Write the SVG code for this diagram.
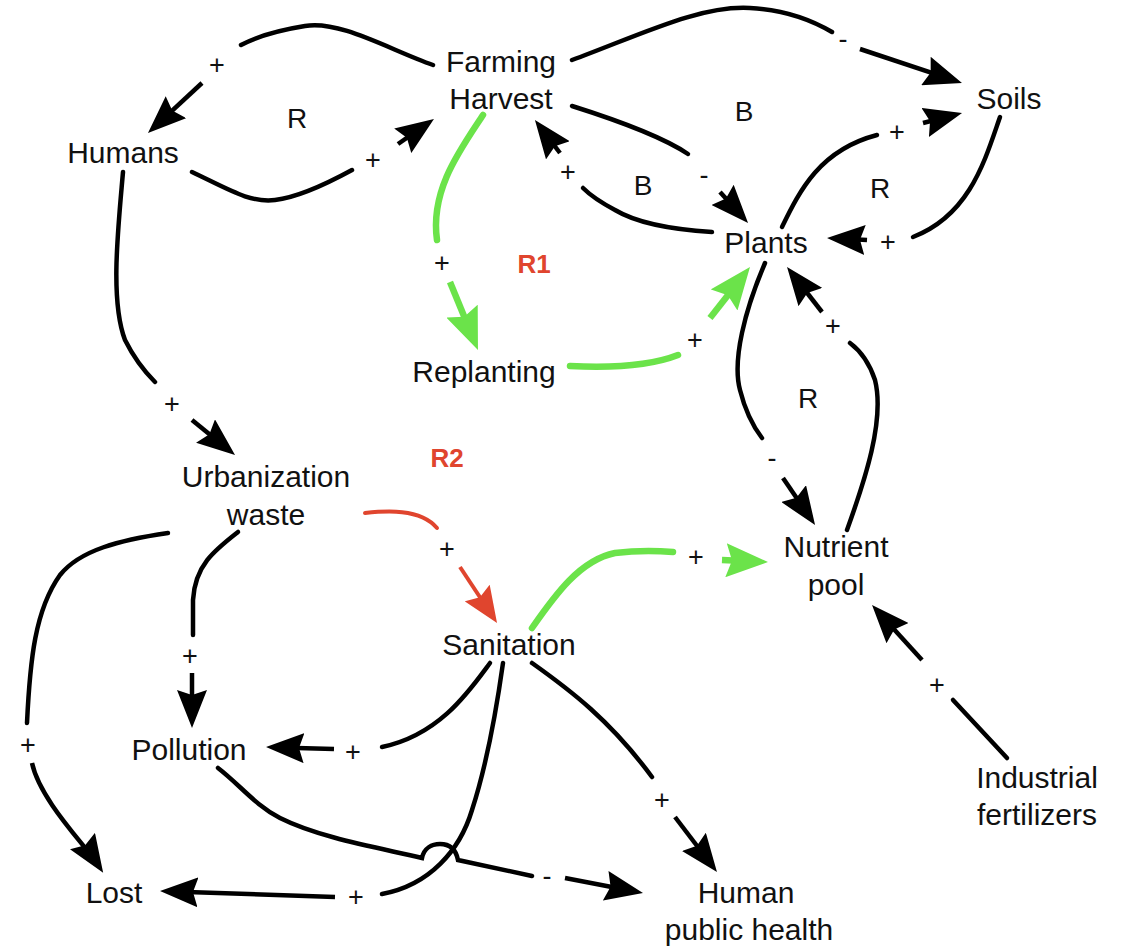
<svg xmlns="http://www.w3.org/2000/svg" width="1123" height="947" viewBox="0 0 1123 947">
<style>
.lbl{font-family:"Liberation Sans",Arial,sans-serif;font-size:30px;fill:#111;text-anchor:middle}
.sgn{font-family:"Liberation Sans",Arial,sans-serif;font-size:27px;fill:#111;text-anchor:middle}
.loop{font-family:"Liberation Sans",Arial,sans-serif;font-size:28px;fill:#111;text-anchor:middle}
.rl{font-family:"Liberation Sans",Arial,sans-serif;font-size:26px;font-weight:bold;fill:#E0452E;text-anchor:middle}
.k{fill:none;stroke:#000;stroke-width:4.5;stroke-linecap:round}
.ka{fill:none;stroke:#000;stroke-width:4.5;stroke-linecap:butt;marker-end:url(#ab)}
.g{fill:none;stroke:#6BE34A;stroke-width:6.5;stroke-linecap:round}
.ga{fill:none;stroke:#6BE34A;stroke-width:6.5;stroke-linecap:butt;marker-end:url(#ag)}
.r{fill:none;stroke:#E0452E;stroke-width:4;stroke-linecap:round}
.ra{fill:none;stroke:#E0452E;stroke-width:4;stroke-linecap:butt;marker-end:url(#ar)}
</style>
<defs>
<marker id="ab" viewBox="0 0 38 30" markerWidth="38" markerHeight="30" refX="26" refY="15" orient="auto" markerUnits="userSpaceOnUse"><path d="M0,0 L38,15 L0,30 L5,15 z" fill="#000"/></marker>
<marker id="ag" viewBox="0 0 42 34" markerWidth="42" markerHeight="34" refX="30" refY="17" orient="auto" markerUnits="userSpaceOnUse"><path d="M0,0 L42,17 L0,34 L6,17 z" fill="#6BE34A"/></marker>
<marker id="ar" viewBox="0 0 36 30" markerWidth="36" markerHeight="30" refX="24" refY="15" orient="auto" markerUnits="userSpaceOnUse"><path d="M0,0 L36,15 L0,30 L5,15 z" fill="#E0452E"/></marker>
</defs>
<rect width="1123" height="947" fill="#fff"/>

<g id="connectors">
  <!-- Farming -> Humans -->
  <path class="k" d="M433,65 C390,50 340,20 305,26 C280,30 258,36 241,45"/>
  <path class="ka" d="M202,83 L156.8,124.8"/>
  <!-- Humans -> Farming -->
  <path class="k" d="M192,172 C230,190 250,203 275,200 C300,197 330,182 352,170"/>
  <path class="ka" d="M398,144 L424.1,125.9"/>
  <!-- Farming -> Soils -->
  <path class="k" d="M572,60 C640,35 700,5 750,8 C790,10 815,22 832,32"/>
  <path class="ka" d="M860,49 L950.6,79.2"/>
  <!-- Farming -> Plants -->
  <path class="k" d="M572,106 C610,118 660,135 688,154"/>
  <path class="ka" d="M720,192 L740,214.1"/>
  <!-- Plants -> Farming -->
  <path class="k" d="M712,232 C680,230 640,225 615,210 C600,202 590,195 583,188"/>
  <path class="ka" d="M560,153 L542.2,129.6"/>
  <!-- Plants -> Soils -->
  <path class="k" d="M782,227 C800,190 820,150 877,135"/>
  <path class="ka" d="M923,123 L950.4,116"/>
  <!-- Soils -> Plants -->
  <path class="k" d="M1000,117 C985,160 970,215 913,237"/>
  <path class="ka" d="M867,240 L839,238.6"/>
  <!-- Farming -> Replanting (green) -->
  <path class="g" d="M483,115 C460,150 430,190 437,240"/>
  <path class="ga" d="M450,282 L473.4,338.9"/>
  <!-- Replanting -> Plants (green) -->
  <path class="g" d="M570,366 C610,368 650,366 678,355"/>
  <path class="ga" d="M710,318 L742.6,276.4"/>
  <!-- Plants -> Nutrient pool -->
  <path class="k" d="M765,263 C745,310 732,360 740,390 C745,410 752,425 762,438"/>
  <path class="ka" d="M783,478 L808.3,515.1"/>
  <!-- Nutrient pool -> Plants -->
  <path class="k" d="M847,530 C865,480 885,420 875,380 C870,365 862,352 850,343"/>
  <path class="ka" d="M822,312 L794.4,276.5"/>
  <!-- Humans -> Urbanization -->
  <path class="k" d="M123,172 C118,230 110,300 125,340 C135,360 145,372 155,382"/>
  <path class="ka" d="M192,420 L225.7,447.4"/>
  <!-- Urbanization -> Sanitation (red) -->
  <path class="r" d="M365,513 C385,511 420,508 437,528"/>
  <path class="ra" d="M460,567 L490.4,613"/>
  <!-- Sanitation -> Nutrient pool (green) -->
  <path class="g" d="M532,628 C555,595 580,560 615,553 C640,550 660,551 673,552"/>
  <path class="ga" d="M722,560 L756,561.5"/>
  <!-- Urbanization -> Pollution -->
  <path class="k" d="M238,532 C215,550 195,565 193,600 L193,635"/>
  <path class="ka" d="M192,673 L192,716"/>
  <!-- Urbanization -> Lost -->
  <path class="k" d="M168,533 C120,540 80,550 60,575 C35,610 30,660 27,723"/>
  <path class="ka" d="M32,763 C40,800 85,845 96.6,862.8"/>
  <!-- Sanitation -> Pollution -->
  <path class="k" d="M490,663 C470,690 440,735 382,747"/>
  <path class="ka" d="M334,749 L278,747.4"/>
  <!-- Sanitation -> Lost -->
  <path class="k" d="M503,663 C495,720 485,770 472,810 C460,850 430,885 382,894"/>
  <path class="ka" d="M335,897 L172,891.4"/>
  <!-- Sanitation -> Human public health -->
  <path class="k" d="M532,663 C570,690 610,720 652,777"/>
  <path class="ka" d="M675,817 L709.7,862.5"/>
  <!-- Pollution -> Human public health (with hop) -->
  <path class="k" d="M218,768 C240,785 255,805 280,818 C320,838 380,848 422,858 C424,848 432,844 440,844 C450,844 456,850 458,860 L532,876"/>
  <path class="ka" d="M565,878 L631.2,890.7"/>
  <!-- Industrial fertilizers -> Nutrient pool -->
  <path class="k" d="M1007,758 L953,700"/>
  <path class="ka" d="M922,660 L880.1,613.9"/>

  <!-- polarity signs -->
  <text class="sgn" x="217" y="74">+</text>
  <text class="sgn" x="373" y="169">+</text>
  <text class="sgn" x="843" y="48">-</text>
  <text class="sgn" x="704" y="184">-</text>
  <text class="sgn" x="568" y="181">+</text>
  <text class="sgn" x="897" y="141">+</text>
  <text class="sgn" x="888" y="251">+</text>
  <text class="sgn" x="442" y="272">+</text>
  <text class="sgn" x="695" y="349">+</text>
  <text class="sgn" x="772" y="467">-</text>
  <text class="sgn" x="833" y="335">+</text>
  <text class="sgn" x="172" y="413">+</text>
  <text class="sgn" x="447" y="558">+</text>
  <text class="sgn" x="696" y="566">+</text>
  <text class="sgn" x="190" y="665">+</text>
  <text class="sgn" x="28" y="754">+</text>
  <text class="sgn" x="353" y="761">+</text>
  <text class="sgn" x="356" y="906">+</text>
  <text class="sgn" x="662" y="809">+</text>
  <text class="sgn" x="547" y="885">-</text>
  <text class="sgn" x="937" y="694">+</text>

  <!-- loop labels -->
  <text class="loop" x="297" y="128">R</text>
  <text class="loop" x="744" y="121">B</text>
  <text class="loop" x="643" y="195">B</text>
  <text class="loop" x="880" y="198">R</text>
  <text class="loop" x="808" y="408">R</text>
  <text class="rl" x="534" y="273">R1</text>
  <text class="rl" x="447" y="467">R2</text>
</g>

<g id="farming"><text class="lbl" x="501" y="72">Farming</text><text class="lbl" x="501" y="109">Harvest</text></g>
<g id="humans"><text class="lbl" x="123" y="163">Humans</text></g>
<g id="soils"><text class="lbl" x="1009" y="109">Soils</text></g>
<g id="plants"><text class="lbl" x="766" y="253">Plants</text></g>
<g id="replanting"><text class="lbl" x="484" y="382">Replanting</text></g>
<g id="urbanization"><text class="lbl" x="266" y="487">Urbanization</text><text class="lbl" x="266" y="525">waste</text></g>
<g id="nutrient"><text class="lbl" x="836" y="557">Nutrient</text><text class="lbl" x="836" y="595">pool</text></g>
<g id="sanitation"><text class="lbl" x="509" y="655">Sanitation</text></g>
<g id="pollution"><text class="lbl" x="189" y="760">Pollution</text></g>
<g id="industrial"><text class="lbl" x="1037" y="788">Industrial</text><text class="lbl" x="1037" y="825">fertilizers</text></g>
<g id="lost"><text class="lbl" x="114" y="903">Lost</text></g>
<g id="health"><text class="lbl" x="746" y="903">Human</text><text class="lbl" x="749" y="940">public health</text></g>
</svg>
